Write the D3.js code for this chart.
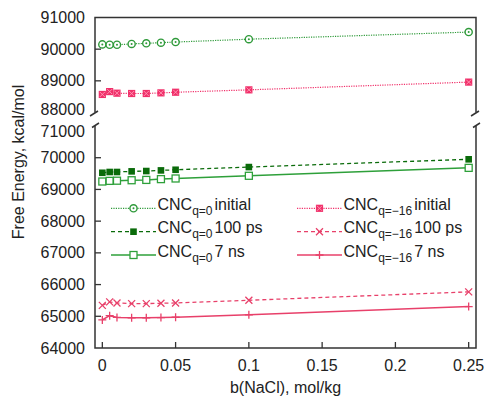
<!DOCTYPE html>
<html>
<head>
<meta charset="utf-8">
<script src="https://cdn.jsdelivr.net/npm/d3@7"></script>
<style>
  html, body { margin: 0; padding: 0; background: #fff; }
  svg text { font-family: "Liberation Sans", Arial, sans-serif; fill: #222; }
</style>
</head>
<body>
<svg id="chart" width="489" height="400"></svg>
<script>
// ---- data ----
const xValues = [0, 0.005, 0.01, 0.02, 0.03, 0.04, 0.05, 0.1, 0.25];
const q0Initial  = [90150, 90140, 90140, 90165, 90185, 90205, 90225, 90315, 90540];
const q16Initial = [88570, 88660, 88610, 88600, 88600, 88620, 88640, 88715, 88960];
const q0_100ps   = [69525, 69550, 69550, 69570, 69580, 69600, 69620, 69705, 69950];
const q0_7ns     = [69250, 69270, 69275, 69290, 69300, 69325, 69345, 69430, 69680];
const q16_100ps  = [65345, 65455, 65420, 65400, 65400, 65410, 65420, 65505, 65770];
const q16_7ns    = [64885, 65020, 64965, 64950, 64950, 64960, 64970, 65045, 65305];
const xTicks = [0, 0.05, 0.1, 0.15, 0.2, 0.25];
const xTickLabels = ["0", "0.05", "0.1", "0.15", "0.2", "0.25"];
const yTopTicks = [88000, 89000, 90000, 91000];
const yBotTicks = [64000, 65000, 66000, 67000, 68000, 69000, 70000, 71000];
const legendSub = ["q=0", "q=0", "q=0", "q=\u221216", "q=\u221216", "q=\u221216"];
const legendSuffix = ["initial", "100 ps", "7 ns", "initial", "100 ps", "7 ns"];

// ---- layout ----
const L = 95, R = 476;
const topY0 = 17.5, topY1 = 112.5;
const botY0 = 126, botY1 = 348;
const GREEN_DOT = "#2f9a3a", GREEN_DARK = "#0a6b0a", GREEN = "#2ea03a";
const RED = "#f0306a", RED2 = "#e8406a";

const svg = d3.select("#chart");
const x = d3.scaleLinear().domain([-0.005, 0.255]).range([L, R]);
const yTop = d3.scaleLinear().domain([88000, 91000]).range([topY1, topY0]);
const yBot = d3.scaleLinear().domain([64000, 71000]).range([botY1, botY0]);

const series = [
  {vals: q0Initial,  y: yTop, color: GREEN_DOT, dash: "1.2,1.2", w: 1.2, marker: "circleDot"},
  {vals: q0_100ps,   y: yBot, color: GREEN_DARK, dash: "4,3", w: 1.3, marker: "fillSquare"},
  {vals: q0_7ns,     y: yBot, color: GREEN, dash: null, w: 1.5, marker: "openSquare"},
  {vals: q16Initial, y: yTop, color: RED, dash: "1.2,1.2", w: 1.2, marker: "starSquare"},
  {vals: q16_100ps,  y: yBot, color: RED2, dash: "4,3", w: 1.3, marker: "cross"},
  {vals: q16_7ns,    y: yBot, color: RED2, dash: null, w: 1.5, marker: "plus"}
];

function drawMarker(g, type, cx, cy, color) {
  if (type === "circleDot") {
    g.append("circle").attr("cx", cx).attr("cy", cy).attr("r", 3.6)
      .attr("fill", "#fff").attr("stroke", color).attr("stroke-width", 1.4);
    g.append("circle").attr("cx", cx).attr("cy", cy).attr("r", 1)
      .attr("fill", color);
  } else if (type === "fillSquare") {
    g.append("rect").attr("x", cx - 3.3).attr("y", cy - 3.3).attr("width", 6.6).attr("height", 6.6)
      .attr("fill", color);
  } else if (type === "openSquare") {
    g.append("rect").attr("x", cx - 3.5).attr("y", cy - 3.5).attr("width", 7).attr("height", 7)
      .attr("fill", "#fff").attr("stroke", color).attr("stroke-width", 1.3);
  } else if (type === "starSquare") {
    g.append("rect").attr("x", cx - 3.6).attr("y", cy - 3.6).attr("width", 7.2).attr("height", 7.2)
      .attr("fill", color);
    g.append("path").attr("d", `M${cx-2.5},${cy-2.5}L${cx+2.5},${cy+2.5}M${cx-2.5},${cy+2.5}L${cx+2.5},${cy-2.5}`)
      .attr("stroke", "#ff9ab5").attr("stroke-width", 0.9);
  } else if (type === "cross") {
    g.append("path").attr("d", `M${cx-3.5},${cy-3.5}L${cx+3.5},${cy+3.5}M${cx-3.5},${cy+3.5}L${cx+3.5},${cy-3.5}`)
      .attr("stroke", color).attr("stroke-width", 1.3);
  } else if (type === "plus") {
    g.append("path").attr("d", `M${cx-4},${cy}L${cx+4},${cy}M${cx},${cy-4}L${cx},${cy+4}`)
      .attr("stroke", color).attr("stroke-width", 1.3);
  }
}

// ---- series ----
series.forEach(s => {
  const line = d3.line().x((d, i) => x(xValues[i])).y(d => s.y(d));
  const g = svg.append("g");
  g.append("path").datum(s.vals).attr("d", line)
    .attr("fill", "none").attr("stroke", s.color).attr("stroke-width", s.w)
    .attr("stroke-dasharray", s.dash);
  s.vals.forEach((v, i) => drawMarker(g, s.marker, x(xValues[i]), s.y(v), s.color));
});

// ---- frame ----
const axisColor = "#333";
const fr = svg.append("g").attr("stroke", axisColor).attr("stroke-width", 1.5).attr("fill", "none");
fr.append("path").attr("d", `M${L},${topY1}L${L},${topY0}L${R},${topY0}L${R},${topY1}`);
fr.append("path").attr("d", `M${L},${botY0}L${L},${botY1}L${R},${botY1}L${R},${botY0}`);
[L, R].forEach(xx => {
  fr.append("line").attr("x1", xx - 5).attr("y1", topY1 + 3.5).attr("x2", xx + 3).attr("y2", topY1 - 1.5);
  fr.append("line").attr("x1", xx - 3).attr("y1", botY0 + 1.5).attr("x2", xx + 4).attr("y2", botY0 - 3);
});

// ---- y ticks ----
function yTicks(scale, ticks, skipEnds, labelShift) {
  ticks.forEach(t => {
    const yy = scale(t);
    if (!skipEnds.includes(t)) {
      svg.append("line").attr("x1", L).attr("x2", L + 6).attr("y1", yy).attr("y2", yy)
        .attr("stroke", axisColor).attr("stroke-width", 1.3);
    }
    svg.append("text").attr("x", 85).attr("y", yy + (labelShift[t] || 0)).attr("dy", "0.35em")
      .attr("text-anchor", "end").attr("font-size", 16).text(d3.format("d")(t));
  });
}
yTicks(yTop, yTopTicks, [88000, 91000], {88000: -3});
yTicks(yBot, yBotTicks, [64000, 71000], {71000: 5});

// ---- x ticks ----
xTicks.forEach((t, i) => {
  const xx = x(t);
  svg.append("line").attr("x1", xx).attr("x2", xx).attr("y1", botY1).attr("y2", botY1 - 6)
    .attr("stroke", axisColor).attr("stroke-width", 1.3);
  svg.append("text").attr("x", xx).attr("y", 371).attr("text-anchor", "middle")
    .attr("font-size", 16).text(xTickLabels[i]);
});

// ---- axis titles ----
svg.append("text").attr("x", (L + R) / 2).attr("y", 393).attr("text-anchor", "middle")
  .attr("font-size", 16).text("b(NaCl), mol/kg");
svg.append("text").attr("transform", "translate(24,162) rotate(-90)").attr("text-anchor", "middle")
  .attr("font-size", 16).text("Free Energy, kcal/mol");

// ---- legend ----
const rowsY = [208.3, 231.7, 255];
series.forEach((s, i) => {
  const col = i < 3 ? 0 : 1;
  const row = i % 3;
  const x0 = col === 0 ? 111 : 297;
  const x1 = col === 0 ? 156 : 342;
  const yy = rowsY[row];
  const g = svg.append("g");
  g.append("line").attr("x1", x0).attr("x2", x1).attr("y1", yy).attr("y2", yy)
    .attr("stroke", s.color).attr("stroke-width", s.w).attr("stroke-dasharray", s.dash);
  drawMarker(g, s.marker, (x0 + x1) / 2, yy, s.color);
  const t = g.append("text").attr("x", x1 + 1.5).attr("y", yy + 1.5).attr("font-size", 16);
  t.append("tspan").text("CNC");
  t.append("tspan").attr("font-size", 12).attr("dy", 5).text(legendSub[i]);
  t.append("tspan").attr("dy", -5).attr("dx", 2).text(legendSuffix[i]);
});
</script>
</body>
</html>
